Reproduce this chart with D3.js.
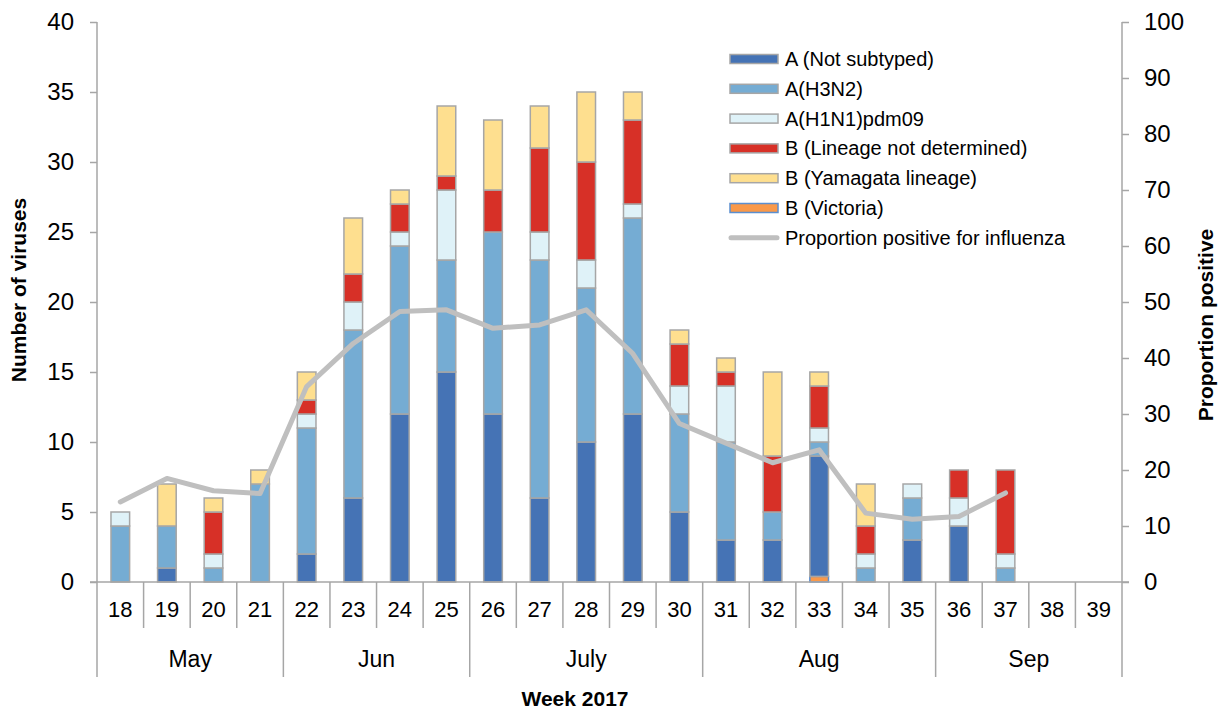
<!DOCTYPE html>
<html><head><meta charset="utf-8">
<script src="https://cdn.jsdelivr.net/npm/d3@7/dist/d3.min.js"></script>
<style>
body{margin:0;background:#fff;}
svg text{font-family:"Liberation Sans",Arial,sans-serif;fill:#000;}
</style></head>
<body><svg id="c" width="1219" height="713"></svg>
<script>
const weeks = [18,19,20,21,22,23,24,25,26,27,28,29,30,31,32,33,34,35,36,37,38,39];
const bVictoria   = [0,0,0,0,0,0,0,0,0,0,0,0,0,0,0,0.4,0,0,0,0,0,0];
const notSubtyped = [0,1,0,0,2,6,12,15,12,6,10,12,5,3,3,8.6,0,3,4,0,0,0];
const h3n2        = [4,3,1,7,9,12,12,8,13,17,11,14,7,7,2,1,1,3,0,1,0,0];
const h1n1        = [1,0,1,0,1,2,1,5,0,2,2,1,2,4,0,1,1,1,2,1,0,0];
const bLineage    = [0,0,3,0,1,2,2,1,3,6,7,6,3,1,4,3,2,0,2,6,0,0];
const bYamagata   = [0,3,1,1,2,4,1,5,5,3,5,2,1,1,6,1,3,0,0,0,0,0];
const proportion  = [14.3,18.5,16.3,15.8,34.9,42.6,48.3,48.6,45.3,45.9,48.6,40.8,28.3,24.8,21.3,23.6,12.3,11.2,11.7,15.9,null,null];
const months      = ["May","Jun","July","Aug","Sep"];
const monthWeeks  = [[18,21],[22,25],[26,30],[31,35],[36,39]];
const leftTicks   = [0,5,10,15,20,25,30,35,40];
const rightTicks  = [0,10,20,30,40,50,60,70,80,90,100];

const series = [
  {key:"bVictoria", label:"B (Victoria)", values:bVictoria, fill:"#f9994a", stroke:"#5b8fd0"},
  {key:"notSubtyped", label:"A (Not subtyped)", values:notSubtyped, fill:"#4573b5", stroke:"#a6a6a6"},
  {key:"h3n2", label:"A(H3N2)", values:h3n2, fill:"#75acd3", stroke:"#a6a6a6"},
  {key:"h1n1", label:"A(H1N1)pdm09", values:h1n1, fill:"#dff2f8", stroke:"#a6a6a6"},
  {key:"bLineage", label:"B (Lineage not determined)", values:bLineage, fill:"#d73027", stroke:"#a6a6a6"},
  {key:"bYamagata", label:"B (Yamagata lineage)", values:bYamagata, fill:"#fedf8f", stroke:"#a6a6a6"}
];
const legendOrder = ["notSubtyped","h3n2","h1n1","bLineage","bYamagata","bVictoria"];

const W=1219,H=713, L=97, R=1122, T=22, B=582;
const svg=d3.select("#c");
const table = weeks.map((w,i)=>{const o={week:w}; series.forEach(s=>o[s.key]=s.values[i]); return o;});
const x = d3.scaleBand().domain(weeks).range([L,R]).padding(0);
const barW = x.bandwidth()*0.4;
const y = d3.scaleLinear().domain([0,40]).range([B,T]);
const y2 = d3.scaleLinear().domain([0,100]).range([B,T]);
const gridCol="#a6a6a6";

const stack = d3.stack().keys(series.map(s=>s.key));
const stacked = stack(table);
stacked.forEach((layer,li)=>{
  const s=series[li];
  svg.append("g").selectAll("rect").data(layer.filter(d=>d[1]-d[0]>0)).join("rect")
    .attr("x",d=>x(d.data.week)+(x.bandwidth()-barW)/2)
    .attr("width",barW)
    .attr("y",d=>y(d[1]))
    .attr("height",d=>y(d[0])-y(d[1]))
    .attr("fill",s.fill).attr("stroke",s.stroke).attr("stroke-width",1.5);
});

// proportion line
const line=d3.line().defined(d=>d!=null).x((d,i)=>x(weeks[i])+x.bandwidth()/2).y(d=>y2(d));
svg.append("path").datum(proportion).attr("d",line).attr("fill","none")
  .attr("stroke","#bfbfbf").attr("stroke-width",5).attr("stroke-linecap","round").attr("stroke-linejoin","round");

// left axis
const ga=svg.append("g").attr("transform",`translate(${L},0)`)
  .call(d3.axisLeft(y).tickValues(leftTicks).tickSize(7).tickPadding(16));
ga.select(".domain").remove();
ga.selectAll("line").attr("stroke",gridCol).attr("stroke-width",1.5);
ga.selectAll("text").style("font-size","24px");
svg.append("line").attr("x1",L).attr("x2",L).attr("y1",T).attr("y2",B).attr("stroke",gridCol).attr("stroke-width",1.5);

// right axis
const gr=svg.append("g").attr("transform",`translate(${R},0)`)
  .call(d3.axisRight(y2).tickValues(rightTicks).tickSize(7).tickPadding(15));
gr.select(".domain").remove();
gr.selectAll("line").attr("stroke",gridCol).attr("stroke-width",1.5);
gr.selectAll("text").style("font-size","24px");
svg.append("line").attr("x1",R).attr("x2",R).attr("y1",T).attr("y2",B).attr("stroke",gridCol).attr("stroke-width",1.5);

// bottom axis
svg.append("line").attr("x1",L-7).attr("x2",R+7).attr("y1",B).attr("y2",B).attr("stroke",gridCol).attr("stroke-width",1.5);
const gb=svg.append("g").attr("transform",`translate(0,${B})`)
  .call(d3.axisBottom(x).tickSize(0).tickPadding(0));
gb.select(".domain").remove();
gb.selectAll("text").style("font-size","22px").attr("y",27).attr("dy","0.35em");
const monthStarts = monthWeeks.map(m=>m[0]);
weeks.forEach(w=>{
  if(monthStarts.indexOf(w)>=0) return;
  svg.append("line").attr("x1",x(w)).attr("x2",x(w)).attr("y1",B).attr("y2",628).attr("stroke",gridCol).attr("stroke-width",1.5);
});
monthWeeks.forEach((m,i)=>{
  const x0=x(m[0]), x1=x(m[1])+x.bandwidth();
  svg.append("line").attr("x1",x0).attr("x2",x0).attr("y1",B).attr("y2",677).attr("stroke",gridCol).attr("stroke-width",1.5);
  if(i===monthWeeks.length-1) svg.append("line").attr("x1",x1).attr("x2",x1).attr("y1",B).attr("y2",677).attr("stroke",gridCol).attr("stroke-width",1.5);
  svg.append("text").attr("x",(x0+x1)/2).attr("y",659).attr("dy","0.35em").attr("text-anchor","middle").style("font-size","23px").text(months[i]);
});

// axis titles
svg.append("text").attr("x",575).attr("y",699).attr("dy","0.35em").attr("text-anchor","middle")
  .style("font-size","21px").style("font-weight","bold").text("Week 2017");
svg.append("text").attr("transform","translate(19,290) rotate(-90)").attr("dy","0.35em").attr("text-anchor","middle")
  .style("font-size","21px").style("font-weight","bold").text("Number of viruses");
svg.append("text").attr("transform","translate(1206,325) rotate(-90)").attr("dy","0.35em").attr("text-anchor","middle")
  .style("font-size","21px").style("font-weight","bold").text("Proportion positive");

// legend
const lg=svg.append("g");
legendOrder.forEach((k,i)=>{
  const s=series.find(d=>d.key===k);
  const cy=59+i*29.8;
  lg.append("rect").attr("x",730).attr("y",cy-4.5).attr("width",48).attr("height",9)
    .attr("fill",s.fill).attr("stroke",s.stroke).attr("stroke-width",1.5);
  lg.append("text").attr("x",785).attr("y",cy).attr("dy","0.35em").style("font-size","20px").text(s.label);
});
const ly=59+6*29.8;
lg.append("line").attr("x1",731).attr("x2",777).attr("y1",ly).attr("y2",ly).attr("stroke","#bfbfbf").attr("stroke-width",5).attr("stroke-linecap","round");
lg.append("text").attr("x",785).attr("y",ly).attr("dy","0.35em").style("font-size","20px").text("Proportion positive for influenza");
</script></body></html>
